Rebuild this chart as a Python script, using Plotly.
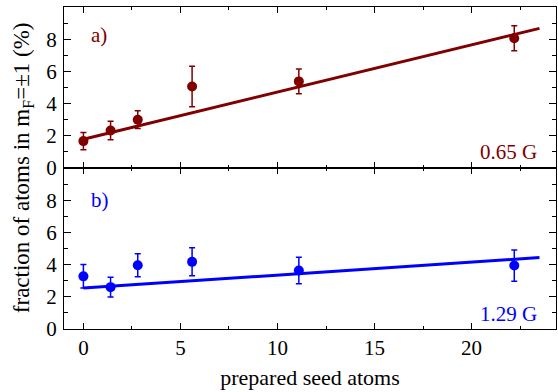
import plotly.graph_objects as go
from plotly.subplots import make_subplots

# data
seed_atoms = [0, 1.4, 2.8, 5.6, 11.1, 22.2]
frac_a = [1.67, 2.33, 3.0, 5.06, 5.38, 8.06]
err_a = [0.54, 0.57, 0.55, 1.26, 0.77, 0.78]
frac_b = [3.27, 2.6, 3.96, 4.17, 3.63, 3.94]
err_b = [0.73, 0.62, 0.72, 0.87, 0.82, 0.97]
fit_x = [0, 23.5]
fit_a = [1.79, 8.67]
fit_b = [2.54, 4.44]
y_ticks = [0, 2, 4, 6, 8]
x_ticks = [0, 5, 10, 15, 20]

red = "#800000"
blue = "#0000ff"
FONT = "Liberation Serif, Times New Roman, Times, serif"

fig = make_subplots(rows=2, cols=1, shared_xaxes=True, vertical_spacing=0)

for row, y, e, fy, c in [(1, frac_a, err_a, fit_a, red), (2, frac_b, err_b, fit_b, blue)]:
    fig.add_trace(go.Scatter(x=fit_x, y=fy, mode="lines",
                             line=dict(color=c, width=3), showlegend=False), row=row, col=1)
    fig.add_trace(go.Scatter(x=seed_atoms, y=y, mode="markers",
                             marker=dict(color=c, size=10),
                             error_y=dict(type="data", array=e, color=c, thickness=1.5, width=3),
                             showlegend=False), row=row, col=1)

axis_common = dict(showline=True, linecolor="black", linewidth=1.2, mirror="ticks",
                   ticks="inside", tickcolor="black", tickwidth=1.2, showgrid=False,
                   zeroline=False, automargin=False,
                   tickfont=dict(family=FONT, size=21, color="black"))

for r in (1, 2):
    fig.update_xaxes(range=[-1, 24.35], tickvals=x_ticks, ticklen=6,
                     minor=dict(dtick=2.5, tick0=0, ticks="inside", ticklen=3, tickcolor="black", tickwidth=1.2),
                     row=r, col=1, **axis_common)
    fig.update_yaxes(range=[0, 10], tickvals=y_ticks, ticklen=7, ticklabelstandoff=2,
                     minor=dict(dtick=1, tick0=0, ticks="inside", ticklen=4, tickcolor="black", tickwidth=1.2),
                     row=r, col=1, **axis_common)

fig.update_xaxes(showticklabels=False, row=1, col=1)
fig.update_xaxes(title=dict(text="prepared seed atoms", font=dict(family=FONT, size=22, color="black"),
                            standoff=10), ticklabelstandoff=0, row=2, col=1)

fig.add_annotation(text="fraction of atoms in m<sub>F</sub>=±1 (%)", xref="paper", yref="paper",
                   x=-0.083, y=0.5, textangle=-90, showarrow=False, xanchor="center", yanchor="middle",
                   font=dict(family=FONT, size=23, color="black"))

fig.add_annotation(text="a)", xref="x domain", yref="y domain", x=0.05, y=0.826,
                   xanchor="left", yanchor="middle", showarrow=False,
                   font=dict(family=FONT, size=21, color=red))
fig.add_annotation(text="0.65 G", xref="x domain", yref="y domain", x=0.965, y=0.1,
                   xanchor="right", yanchor="middle", showarrow=False,
                   font=dict(family=FONT, size=21, color=red))
fig.add_annotation(text="b)", xref="x2 domain", yref="y2 domain", x=0.05, y=0.80,
                   xanchor="left", yanchor="middle", showarrow=False,
                   font=dict(family=FONT, size=21, color=blue))
fig.add_annotation(text="1.29 G", xref="x2 domain", yref="y2 domain", x=0.965, y=0.093,
                   xanchor="right", yanchor="middle", showarrow=False,
                   font=dict(family=FONT, size=21, color=blue))

fig.update_layout(width=558, height=392, margin=dict(l=64, r=2, t=7, b=63),
                  plot_bgcolor="white", paper_bgcolor="white",
                  font=dict(family=FONT, color="black"))

fig.write_html("out.html", config={"displayModeBar": False},
               post_script="document.body.style.margin='0';")
